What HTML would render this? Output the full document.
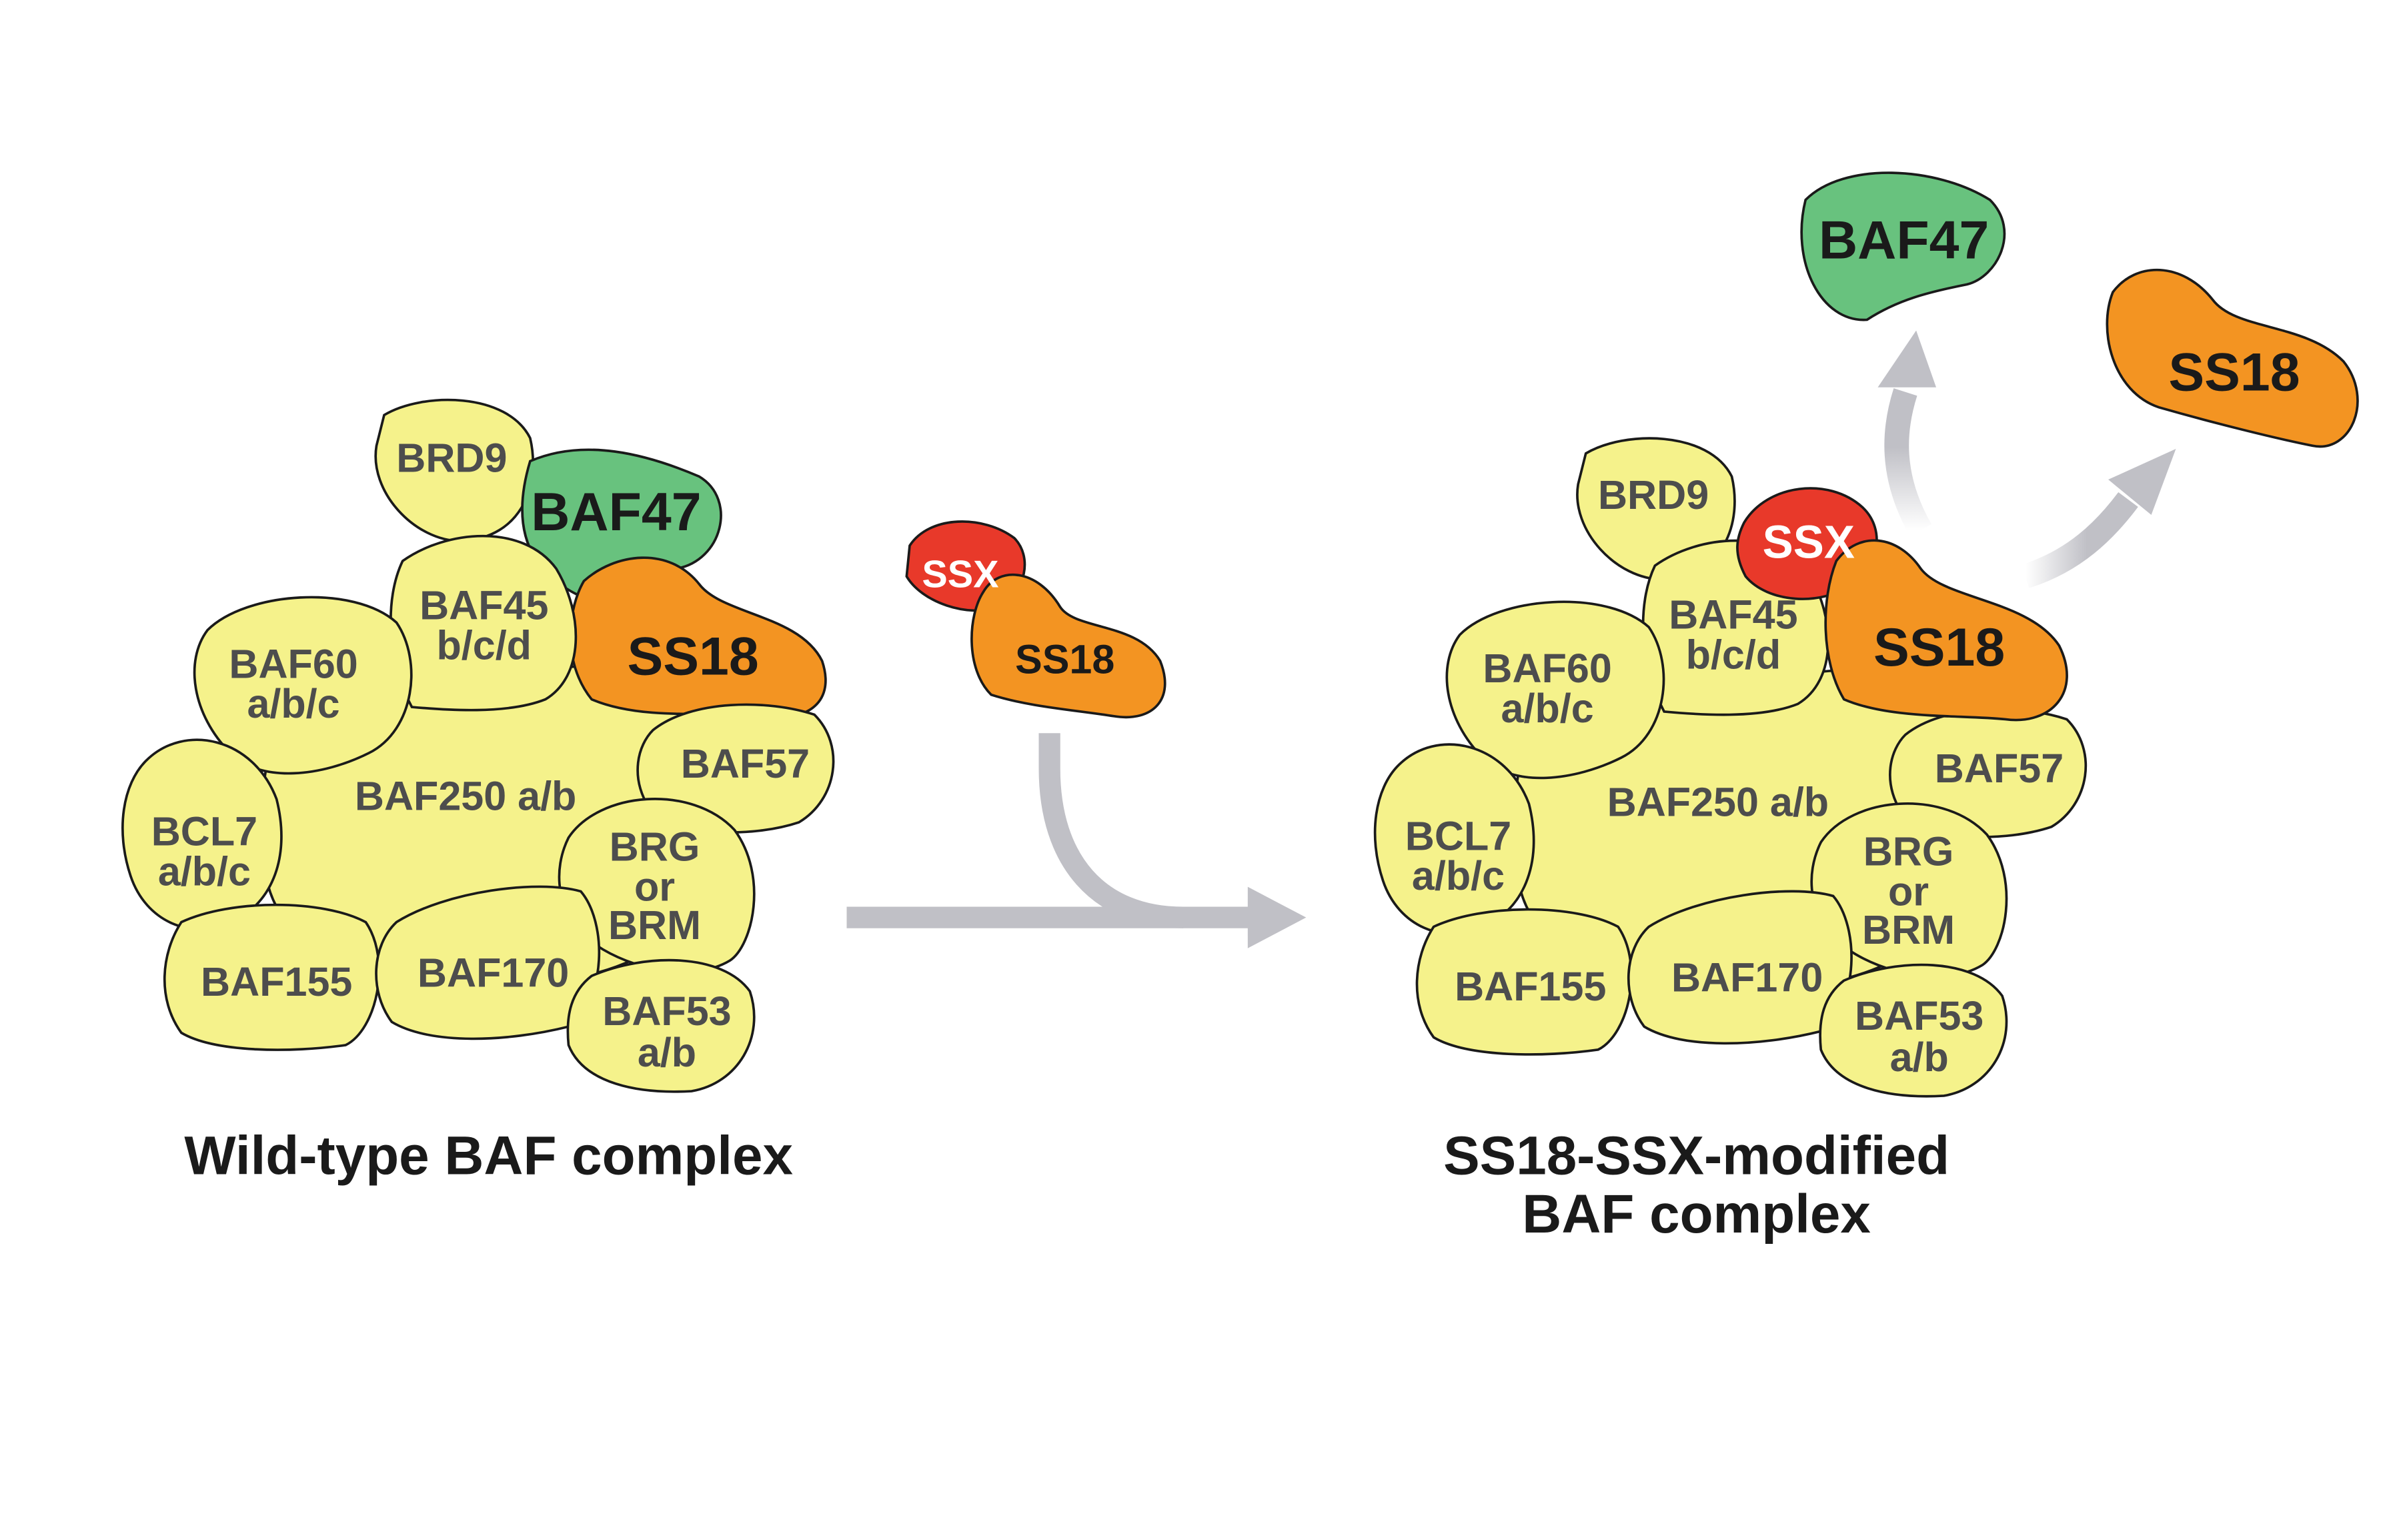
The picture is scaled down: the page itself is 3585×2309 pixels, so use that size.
<!DOCTYPE html>
<html><head><meta charset="utf-8"><style>
html,body{margin:0;padding:0;background:#fff}
svg{display:block}
text{font-family:"Liberation Sans",sans-serif;font-weight:bold}
.y{fill:#f5f28b;stroke:#1a1a1a;stroke-width:1.6}
.g{fill:#68c27e;stroke:#1a1a1a;stroke-width:1.6}
.o{fill:#f39422;stroke:#1a1a1a;stroke-width:1.6}
.r{fill:#e8392a;stroke:#1a1a1a;stroke-width:1.6}
.t{fill:#4d4d4d;font-size:26.5px;text-anchor:middle}
.tb{fill:#1a1a1a;font-size:35px;text-anchor:middle}
.tw{fill:#fff;font-size:25px;text-anchor:middle}
.lb{fill:#1a1a1a;font-size:35.5px;text-anchor:middle}
</style></head><body>
<svg width="3585" height="2309" viewBox="0 0 1556 1002" xmlns="http://www.w3.org/2000/svg">
<defs>
<linearGradient id="ga" x1="0" y1="1" x2="0" y2="0"><stop offset="0" stop-color="#c0c0c6" stop-opacity="0"/><stop offset="0.6" stop-color="#c0c0c6"/></linearGradient>
<linearGradient id="gb" x1="0" y1="0" x2="1" y2="0"><stop offset="0" stop-color="#c0c0c6" stop-opacity="0"/><stop offset="0.6" stop-color="#c0c0c6"/></linearGradient>
<path id="brd" class="y" d="M250,270 C275,255 330,255 345,285 C352,315 340,350 300,352 C270,352 240,320 245,290Z"/>
</defs>
<g id="B">
<path class="y" d="M185,470 C230,430 330,440 390,432 C450,430 480,470 470,540 C465,600 420,640 330,640 C240,645 175,620 172,560 C170,520 170,490 185,470Z"/>
</g>
<use href="#brd"/>
<path class="g" d="M345,300 C380,285 420,295 455,310 C480,325 470,365 440,370 C415,375 395,385 378,388 C350,375 330,350 345,300Z"/>
<path class="o" d="M380,378 C400,360 435,355 455,380 C470,400 520,400 535,430 C545,460 520,470 500,465 C470,462 420,470 385,455 C365,430 370,395 380,378Z"/>
<g id="L">
<path class="y" d="M262,365 C290,345 340,340 362,370 C380,400 380,440 355,455 C330,465 290,462 268,460 C252,430 250,390 262,365Z"/>
<path class="y" d="M135,410 C160,385 230,380 258,405 C275,430 270,475 240,490 C210,505 170,510 150,490 C125,465 120,430 135,410Z"/>
<path class="y" d="M95,495 C120,470 165,480 180,520 C190,560 175,590 150,600 C125,612 95,600 85,570 C75,540 80,510 95,495Z"/>
<path class="y" d="M425,475 C450,455 500,455 530,465 C550,485 545,520 520,535 C490,545 440,545 422,525 C410,505 415,485 425,475Z"/>
<path class="y" d="M370,545 C390,515 450,510 478,540 C500,570 490,615 475,625 C450,640 410,630 388,615 C360,595 360,565 370,545Z"/>
<path class="y" d="M118,600 C150,585 210,585 238,600 C255,625 245,670 225,680 C190,685 140,685 118,672 C102,650 105,620 118,600Z"/>
<path class="y" d="M258,600 C290,580 350,572 378,580 C395,600 395,650 370,668 C330,678 280,680 255,665 C240,645 242,615 258,600Z"/>
<path class="y" d="M385,635 C420,620 470,620 488,645 C498,675 480,705 450,710 C415,712 380,705 370,680 C368,660 372,645 385,635Z"/>
</g>
<text class="t" x="303" y="527">BAF250 a/b</text>
<text class="t" x="294" y="307">BRD9</text>
<text class="tb" x="401" y="345">BAF47</text>
<text class="tb" x="451" y="439">SS18</text>
<text class="t" x="315" y="403">BAF45</text><text class="t" x="315" y="429">b/c/d</text>
<text class="t" x="191" y="441">BAF60</text><text class="t" x="191" y="467">a/b/c</text>
<text class="t" x="133" y="550">BCL7</text><text class="t" x="133" y="576">a/b/c</text>
<text class="t" x="485" y="506">BAF57</text>
<text class="t" x="426" y="560">BRG</text><text class="t" x="426" y="586">or</text><text class="t" x="426" y="611">BRM</text>
<text class="t" x="180" y="648">BAF155</text>
<text class="t" x="321" y="642">BAF170</text>
<text class="t" x="434" y="667">BAF53</text><text class="t" x="434" y="694">a/b</text>
<text class="lb" x="318" y="764">Wild-type BAF complex</text>

<use href="#B" transform="translate(815,3)"/>
<use href="#brd" transform="translate(782,25)"/>
<use href="#L" transform="translate(815,3)"/>
<path class="r" d="M1135,340 C1150,315 1190,310 1212,330 C1228,345 1222,370 1205,380 C1185,395 1150,392 1136,375 C1128,360 1130,350 1135,340Z"/>
<path class="o" d="M1195,365 C1210,345 1235,348 1250,370 C1265,390 1320,390 1340,420 C1355,450 1335,472 1305,468 C1275,465 1230,468 1200,455 C1185,430 1185,390 1195,365Z"/>
<text class="t" x="1118" y="531">BAF250 a/b</text>
<text class="t" x="1076" y="331">BRD9</text>
<text class="tw" x="1177" y="363" style="font-size:30px">SSX</text>
<text class="tb" x="1262" y="433">SS18</text>
<text class="t" x="1128" y="409">BAF45</text><text class="t" x="1128" y="435">b/c/d</text>
<text class="t" x="1007" y="444">BAF60</text><text class="t" x="1007" y="470">a/b/c</text>
<text class="t" x="949" y="553">BCL7</text><text class="t" x="949" y="579">a/b/c</text>
<text class="t" x="1301" y="509">BAF57</text>
<text class="t" x="1242" y="563">BRG</text><text class="t" x="1242" y="589">or</text><text class="t" x="1242" y="614">BRM</text>
<text class="t" x="996" y="651">BAF155</text>
<text class="t" x="1137" y="645">BAF170</text>
<text class="t" x="1249" y="670">BAF53</text><text class="t" x="1249" y="697">a/b</text>
<text class="lb" x="1104" y="764">SS18-SSX-modified</text>
<text class="lb" x="1104" y="802">BAF complex</text>

<!-- free -->
<path class="g" d="M1175,130 C1200,105 1260,108 1295,130 C1315,150 1300,180 1280,185 C1255,190 1235,195 1215,208 C1185,210 1165,170 1175,130Z"/>
<text class="tb" x="1239" y="168">BAF47</text>
<path class="o" d="M1375,190 C1390,170 1420,170 1440,195 C1455,215 1500,210 1525,235 C1545,260 1530,295 1505,290 C1480,285 1440,275 1405,265 C1375,255 1365,215 1375,190Z"/>
<text class="tb" x="1454" y="254">SS18</text>
<path d="M1250,345 C1230,310 1232,280 1240,255" stroke="url(#ga)" stroke-width="16" fill="none"/>
<polygon points="1222,252 1260,252 1247,215" fill="#c0c0c6"/>
<path d="M1318,375 C1350,365 1370,345 1385,325" stroke="url(#gb)" stroke-width="16" fill="none"/>
<polygon points="1372,312 1400,335 1416,292" fill="#c0c0c6"/>

<!-- middle -->
<path class="r" d="M592,355 C605,335 640,335 660,350 C672,362 668,385 650,395 C630,402 600,392 590,375Z"/>
<path class="o" d="M640,385 C650,368 675,370 690,395 C700,410 740,405 755,430 C765,455 750,470 725,466 C700,462 670,460 645,452 C628,435 630,400 640,385Z"/>
<text class="tw" x="625" y="382">SSX</text>
<text class="t" x="693" y="438" style="fill:#1a1a1a">SS18</text>
<path d="M683,477 L683,500 C683,560 715,597 770,597" stroke="#c0c0c6" stroke-width="14" fill="none"/>
<line x1="551" y1="597" x2="815" y2="597" stroke="#c0c0c6" stroke-width="14"/>
<polygon points="812,577 850,597 812,617" fill="#c0c0c6"/>
</svg>
</body></html>
